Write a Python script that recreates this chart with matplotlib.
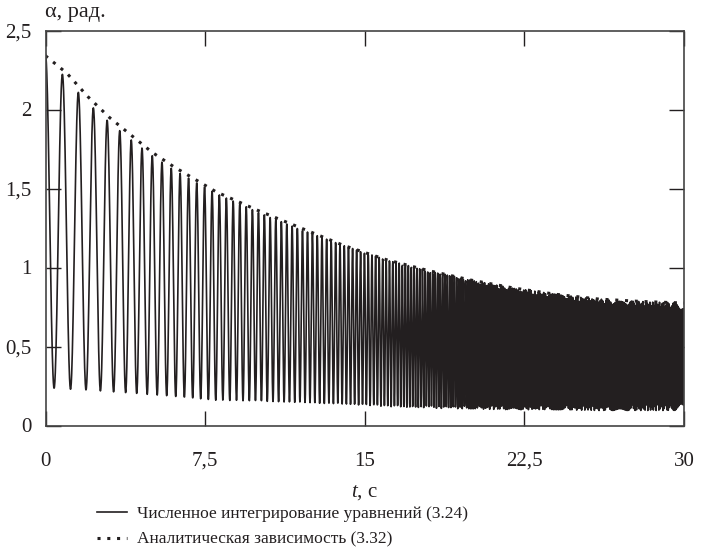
import numpy as np
import matplotlib
matplotlib.use("Agg")
import matplotlib.pyplot as plt

plt.rcParams['font.family'] = ['Liberation Serif', 'DejaVu Serif']
plt.rcParams['mathtext.fontset'] = 'custom'
plt.rcParams['mathtext.it'] = 'Liberation Serif:italic'

# Аналитическая зависимость (3.32) - огибающая
t_an = [0, 1, 2, 3, 4, 5, 6, 8, 10, 12, 14, 16, 18, 20, 22, 24, 26, 28, 30]
alpha_an = [2.34, 2.23, 2.08, 1.95, 1.84, 1.73, 1.64, 1.48, 1.36, 1.25,
            1.14, 1.05, 0.98, 0.92, 0.87, 0.83, 0.80, 0.785, 0.775]

# Численное интегрирование (3.24): верхняя и нижняя огибающие колебаний
t_env = [0, 1, 2, 3, 4, 5, 6, 8, 10, 12, 14, 16, 18, 20, 22, 24, 26, 28, 30]
alpha_max = [2.35, 2.19, 2.04, 1.92, 1.81, 1.71, 1.62, 1.47, 1.35, 1.24,
             1.14, 1.05, 0.98, 0.92, 0.87, 0.83, 0.80, 0.785, 0.775]
alpha_min = [0.24, 0.23, 0.225, 0.215, 0.205, 0.195, 0.185, 0.16, 0.155, 0.145,
             0.135, 0.12, 0.11, 0.105, 0.10, 0.10, 0.095, 0.095, 0.095]

# период колебаний, снятый по расстоянию между пиками
t_per = [0, 2, 4, 6, 8, 10, 12, 14, 16, 18, 20, 24, 30]
period = [0.82, 0.70, 0.52, 0.42, 0.34, 0.28, 0.24, 0.20, 0.16, 0.12, 0.10, 0.08, 0.06]

xticks = [0, 7.5, 15, 22.5, 30]
xticklabels = ['0', '7,5', '15', '22,5', '30']
yticks = [0, 0.5, 1, 1.5, 2, 2.5]
yticklabels = ['0', '0,5', '1', '1,5', '2', '2,5']

# восстановление кривой по снятым огибающим и периоду (шаг как у расчёта)
dt = 0.01
t = np.arange(0, 30 + dt / 2, dt)
up = np.interp(t, t_env, alpha_max)
lo = np.interp(t, t_env, alpha_min)
f = 1.0 / np.interp(t, t_per, period)
phase = 2 * np.pi * np.cumsum(f) * dt - 2 * np.pi * f[0] * dt
alpha_num = lo + (up - lo) * (1 + np.cos(phase)) / 2

fig = plt.figure(figsize=(7.02, 5.59), dpi=100)
ax = fig.add_axes([45.5 / 702, 1 - 425.5 / 559, (684 - 45.5) / 702, (425.5 - 30.5) / 559])

col = '#231f20'
ax.plot(t, alpha_num, color=col, lw=1.2, label='Численное интегрирование уравнений (3.24)')
ax.plot(t_an, alpha_an, color=col, lw=2.2, linestyle=(0, (1, 2.2)),
        label='Аналитическая зависимость (3.32)')

ax.set_xlim(0, 30)
ax.set_ylim(0, 2.5)
ax.set_xticks(xticks)
ax.set_xticklabels(xticklabels)
ax.set_yticks(yticks)
ax.set_yticklabels(yticklabels)
ax.tick_params(direction='in', length=11, width=1, colors=col, labelsize=15,
               top=True, right=True, labelcolor=col)
ax.tick_params(axis='y', pad=10)
ax.tick_params(axis='x', pad=19)
for s in ax.spines.values():
    s.set_color('#444444')
    s.set_linewidth(1.2)

fig.text(45 / 702, 1 - 13 / 559, 'α, рад.', fontsize=16, color=col, va='center', ha='left')
ax.set_xlabel('$t$, с', fontsize=15, color=col, labelpad=9)

fig.legend(loc='upper left', bbox_to_anchor=(97 / 702, 1 - 506 / 559), frameon=False,
           fontsize=12.5, handlelength=1.7, handletextpad=0.6, labelspacing=0.55,
           labelcolor=col, borderpad=0, borderaxespad=0)

fig.savefig('out.png', dpi=100)
